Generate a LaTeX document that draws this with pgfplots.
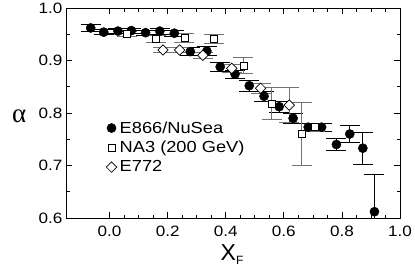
\documentclass[border=0pt]{standalone}
\usepackage{pgfplots}
\pgfplotsset{compat=1.18}
\usepackage{fontspec}
\setmainfont{Liberation Sans}
\newfontfamily\widesans{Liberation Sans}[FakeStretch=1.14]
\newfontfamily\serifgreek{Liberation Serif}
\pgfplotstableread{
x y e
-0.065 0.962 0.007
-0.020 0.954 0.005
0.029 0.956 0.005
0.075 0.957 0.005
0.124 0.953 0.005
0.173 0.956 0.006
0.223 0.952 0.006
0.278 0.917 0.008
0.335 0.918 0.008
0.381 0.888 0.008
0.432 0.874 0.008
0.481 0.852 0.010
0.532 0.832 0.010
0.584 0.812 0.010
0.632 0.790 0.010
0.684 0.773 0.008
0.730 0.773 0.008
0.781 0.740 0.011
0.827 0.760 0.016
0.872 0.733 0.031
0.912 0.612 0.071
}\eeight
\pgfplotstableread{
x y e
0.061 0.950 0.005
0.161 0.941 0.006
0.258 0.943 0.009
0.358 0.941 0.009
0.461 0.890 0.015
0.558 0.818 0.031
0.661 0.761 0.060
0.707 0.773 0.008
}\nathree
\pgfplotstableread{
x y e
0.184 0.920 0.005
0.241 0.920 0.005
0.321 0.910 0.006
0.421 0.885 0.008
0.520 0.847 0.010
0.619 0.815 0.033
}\esevenseven
\begin{document}
\begin{tikzpicture}
\begin{axis}[name=ax, scale only axis, width=334pt, height=210pt,
  xmin=-0.15, xmax=1.0, ymin=0.6, ymax=1.0,
  xtick={0,0.2,0.4,0.6,0.8,1.0}, minor x tick num=3,
  ytick={0.6,0.7,0.8,0.9,1.0}, minor y tick num=1,
  tick align=inside, major tick length=6pt, minor tick length=3.5pt,
  every tick/.style={black, line width=0.7pt},
  axis line style={line width=0.8pt},
  /pgf/number format/.cd, fixed, fixed zerofill, precision=1, assume math mode=true,
  /pgfplots/.cd,
  tick label style={font=\widesans\fontsize{15}{17}\selectfont},
  xticklabel style={yshift=-4pt},
  xlabel={{\fontsize{23}{25}\selectfont X}\raisebox{-0.45em}{\fontsize{12}{13}\selectfont F}},
  xlabel style={at={(axis description cs:0.497,-0.175)}, anchor=center},
  ylabel={\serifgreek\fontsize{27}{29}\selectfont α},
  ylabel style={rotate=-90, at={(axis description cs:-0.14,0.485)}, anchor=center},
  legend style={at={(axis description cs:0.12,0.47)}, anchor=north west, draw=none, fill=none,
    font=\widesans\fontsize{16}{18}\selectfont, row sep=2.5pt, inner sep=0pt,
    nodes={inner xsep=3pt}},
  legend cell align=left,
  error bars/error mark=|,
]
\addplot[only marks, mark=*, mark size=4.6pt, black,
  error bars/.cd, y dir=both, y explicit, error bar style={line width=0.8pt, black},
  error mark options={mark size=10pt, line width=0.8pt, black}]
  table[x=x, y=y, y error=e]{\eeight};
\addlegendentry{E866/NuSea}
\addplot[only marks, mark=square*, mark size=3.5pt, black, mark options={fill=white, line width=0.7pt},
  error bars/.cd, y dir=both, y explicit, error bar style={line width=0.8pt, black!55},
  error mark options={mark size=10pt, line width=0.8pt, black!55}]
  table[x=x, y=y, y error=e]{\nathree};
\addlegendentry{NA3 (200 GeV)}
\addplot[only marks, mark=square*, mark size=3.7pt, black, mark options={rotate=45, fill=white, line width=0.7pt},
  error bars/.cd, y dir=both, y explicit, error bar style={line width=0.8pt, black!55},
  error mark options={mark size=10pt, line width=0.8pt, black!55}]
  table[x=x, y=y, y error=e]{\esevenseven};
\addlegendentry{E772}
\end{axis}
\path (ax.south west) ++(-66pt,-53pt) coordinate (bl);
\path (ax.north east) ++(15pt,8pt) coordinate (tr);
\pgfresetboundingbox
\path[use as bounding box] (bl) rectangle (tr);
\end{tikzpicture}
\end{document}
